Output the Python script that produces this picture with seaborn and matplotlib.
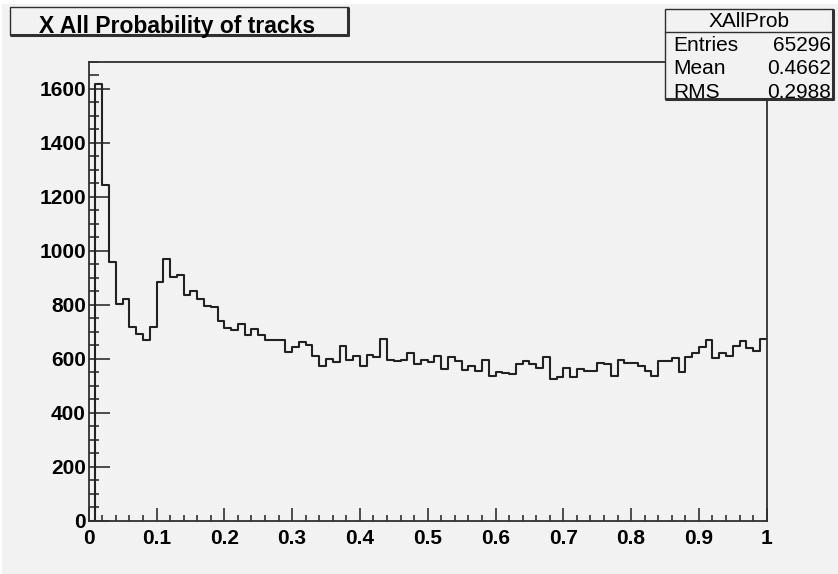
import numpy as np
import pandas as pd
import matplotlib
matplotlib.use("Agg")
import matplotlib.pyplot as plt
import seaborn as sns
from matplotlib.patches import Rectangle
from matplotlib.lines import Line2D

# Histogram definition: 100 equal bins on [0, 1]
n_bins = 100
x_min, x_max = 0.0, 1.0

# Bin contents
counts = [
    0, 1618, 1244, 960, 805, 821, 720, 693, 670, 720,
    884, 969, 902, 910, 837, 853, 821, 796, 791, 740,
    716, 707, 730, 690, 712, 690, 670, 670, 670, 625,
    644, 662, 650, 612, 575, 601, 589, 649, 596, 611,
    575, 616, 608, 675, 597, 592, 597, 621, 581, 597,
    588, 612, 562, 607, 592, 558, 574, 554, 597, 536,
    550, 547, 545, 580, 594, 580, 567, 606, 526, 535,
    566, 535, 562, 557, 557, 586, 580, 538, 597, 586,
    586, 575, 554, 538, 594, 594, 603, 553, 607, 621,
    644, 670, 603, 621, 612, 648, 666, 639, 629, 675,
]

title = "X All Probability of tracks"
stats_name = "XAllProb"
stats_labels = ["Entries", "Mean", "RMS"]
stats_values = ["65296", "0.4662", "0.2988"]

x_ticks = [0, 0.1, 0.2, 0.3, 0.4, 0.5, 0.6, 0.7, 0.8, 0.9, 1]
x_tick_labels = ["0", "0.1", "0.2", "0.3", "0.4", "0.5", "0.6", "0.7", "0.8", "0.9", "1"]
y_ticks = [0, 200, 400, 600, 800, 1000, 1200, 1400, 1600]

edges = np.linspace(x_min, x_max, n_bins + 1)
hist_df = pd.DataFrame({"prob": 0.5 * (edges[:-1] + edges[1:]), "count": counts})

W, H = 838, 574
BG = "#f2f2f2"
INK = "#303030"

sns.set_theme(style="ticks")
plt.rcParams["font.family"] = ["Liberation Sans", "DejaVu Sans"]

fig = plt.figure(figsize=(W / 100, H / 100), dpi=100, facecolor="white")


def fx(px):
    return px / W


def fy(py):
    return 1 - py / H


# canvas fill
fig.patches.append(Rectangle((fx(2), 0), 1, fy(4), transform=fig.transFigure,
                             facecolor=BG, edgecolor="none", zorder=-5))

ax_left, ax_right, ax_top, ax_bottom = 88.7, 766.7, 61.7, 521.0
ax = fig.add_axes([fx(ax_left), fy(ax_bottom), fx(ax_right - ax_left), (ax_bottom - ax_top) / H])
ax.set_facecolor(BG)

sns.histplot(data=hist_df, x="prob", weights="count", bins=n_bins, binrange=(x_min, x_max),
             element="step", fill=False, color="#222222", linewidth=1.5, ax=ax)

ax.set_xlim(x_min, x_max)
ax.set_ylim(0, 1701)
ax.set_xlabel("")
ax.set_ylabel("")
ax.set_xticks(x_ticks)
ax.set_xticklabels(x_tick_labels)
ax.set_yticks(y_ticks)
ax.xaxis.set_minor_locator(matplotlib.ticker.MultipleLocator(0.02))
ax.yaxis.set_minor_locator(matplotlib.ticker.MultipleLocator(50))

for s in ax.spines.values():
    s.set_color(INK)
    s.set_linewidth(1.3)

ax.tick_params(axis="x", which="major", direction="in", length=9.5, width=1.2,
               color=INK, pad=6, labelsize=15)
ax.tick_params(axis="x", which="minor", direction="in", length=4.5, width=1.2, color=INK)
ax.tick_params(axis="y", which="major", direction="in", length=15, width=1.2,
               color=INK, pad=2, labelsize=15)
ax.tick_params(axis="y", which="minor", direction="in", length=7.5, width=1.2, color=INK)
for lab in ax.get_xticklabels() + ax.get_yticklabels():
    lab.set_fontweight("bold")
    lab.set_color("black")


def framed_box(x0, y0, x1, y1, z=5):
    fig.patches.append(Rectangle((fx(x0), fy(y1)), fx(x1 - x0), (y1 - y0) / H,
                                 transform=fig.transFigure, facecolor=BG,
                                 edgecolor=INK, linewidth=1.0, zorder=z))
    # shadow on right and bottom edges
    fig.lines.append(Line2D([fx(x1), fx(x1)], [fy(y0 + 1), fy(y1)], transform=fig.transFigure,
                            color=INK, linewidth=2.2, zorder=z + 1))
    fig.lines.append(Line2D([fx(x0 + 1), fx(x1)], [fy(y1), fy(y1)], transform=fig.transFigure,
                            color=INK, linewidth=2.2, zorder=z + 1))


# title box
framed_box(10, 7, 348, 35)
fig.text(fx(39), fy(32.7), title, fontsize=16.5, fontweight="bold", color="black",
         ha="left", va="baseline", zorder=10)

# statistics box
sx0, sy0, sx1, sy1 = 665, 9, 833, 99
framed_box(sx0, sy0, sx1, sy1)
fig.lines.append(Line2D([fx(sx0), fx(sx1)], [fy(32), fy(32)], transform=fig.transFigure,
                        color=INK, linewidth=1.0, zorder=7))
fig.text(fx((sx0 + sx1) / 2), fy(27), stats_name, fontsize=15, color="black",
         ha="center", va="baseline", zorder=10)
for i, (lab, val) in enumerate(zip(stats_labels, stats_values)):
    base = 51 + 23.5 * i
    fig.text(fx(673), fy(base), lab, fontsize=15, color="black",
             ha="left", va="baseline", zorder=10)
    fig.text(fx(831), fy(base), val, fontsize=15, color="black",
             ha="right", va="baseline", zorder=10)

fig.savefig("out.png", dpi=100, facecolor=fig.get_facecolor())
